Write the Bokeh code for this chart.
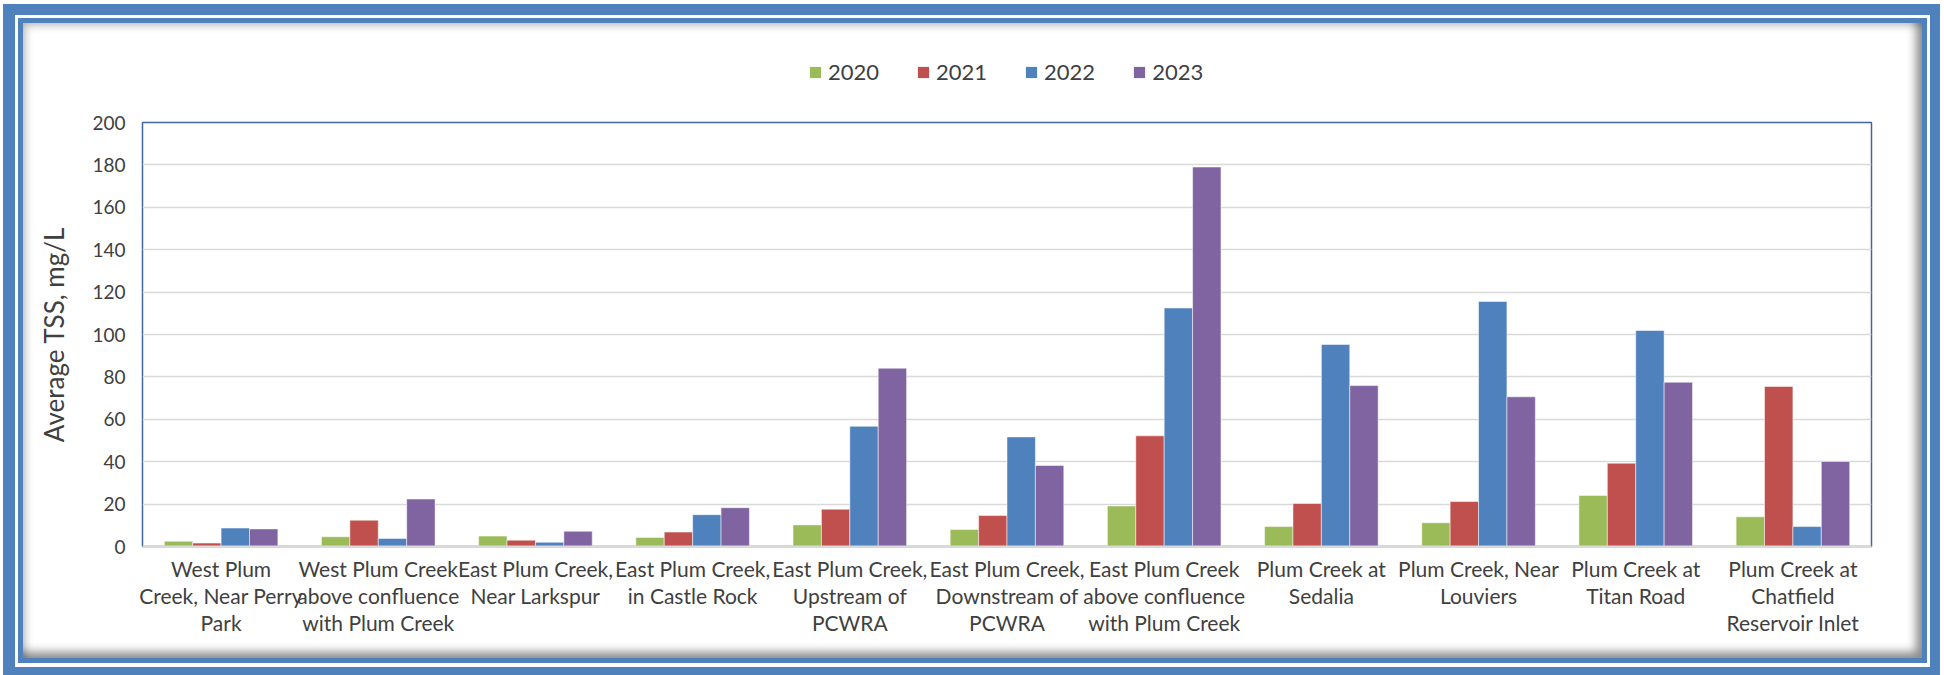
from bokeh.plotting import figure
from bokeh.layouts import column
from bokeh.models import (FactorRange, Range1d, Legend, LegendItem, FixedTicker,
                          ColumnDataSource, InlineStyleSheet)
from bokeh.transform import dodge
from bokeh.embed import file_html
from bokeh.resources import INLINE

categories = [
    "West Plum\nCreek, Near Perry\nPark",
    "West Plum Creek\nabove confluence\nwith Plum Creek",
    "East Plum Creek,\nNear Larkspur",
    "East Plum Creek,\nin Castle Rock",
    "East Plum Creek,\nUpstream of\nPCWRA",
    "East Plum Creek,\nDownstream of\nPCWRA",
    "East Plum Creek\nabove confluence\nwith Plum Creek",
    "Plum Creek at\nSedalia",
    "Plum Creek, Near\nLouviers",
    "Plum Creek at\nTitan Road",
    "Plum Creek at\nChatfield\nReservoir Inlet",
]
years = ["2020", "2021", "2022", "2023"]
tss_2020 = [2.5, 4.6, 4.9, 4.3, 10.2, 8.0, 19.1, 9.4, 11.2, 24.1, 14.0]
tss_2021 = [1.6, 12.4, 3.0, 6.8, 17.6, 14.6, 52.2, 20.3, 21.2, 39.3, 75.5]
tss_2022 = [8.7, 3.8, 2.0, 15.0, 56.7, 51.7, 112.5, 95.3, 115.6, 101.9, 9.4]
tss_2023 = [8.3, 22.4, 7.2, 18.3, 84.1, 38.2, 179.0, 75.9, 70.6, 77.5, 40.1]
y_ticks = [0, 20, 40, 60, 80, 100, 120, 140, 160, 180, 200]
y_label = "Average TSS, mg/L"
colors = ["#9BBB59", "#C0504D", "#4F81BD", "#8064A2"]

FONT = "Lato"
TXT = "#404040"

source = ColumnDataSource(dict(cat=categories, y2020=tss_2020, y2021=tss_2021,
                               y2022=tss_2022, y2023=tss_2023))

# ---------- main chart ----------
p = figure(width=1944, height=570,
           x_range=FactorRange(*categories, range_padding=0),
           y_range=Range1d(0, 200), output_backend="svg", toolbar_location=None,
           min_border_left=142, min_border_right=73, min_border_top=17, min_border_bottom=129)
p.background_fill_color = "white"
p.border_fill_color = "white"
p.outline_line_color = "#41669C"
p.outline_line_width = 1.5

bw = 0.1807
offsets = [-1.5 * bw, -0.5 * bw, 0.5 * bw, 1.5 * bw]
fields = ["y2020", "y2021", "y2022", "y2023"]
for f, off, c in zip(fields, offsets, colors):
    p.vbar(x=dodge("cat", off, range=p.x_range), top=f, width=bw, source=source,
           fill_color=c, line_color="white", line_alpha=0.5, line_width=1)

p.yaxis.ticker = FixedTicker(ticks=y_ticks)
p.yaxis.axis_line_color = None
p.yaxis.major_tick_line_color = None
p.yaxis.major_tick_out = 0
p.yaxis.major_tick_in = 0
p.yaxis.minor_tick_line_color = None
p.yaxis.major_label_standoff = 17
p.yaxis.major_label_text_font = FONT
p.yaxis.major_label_text_font_size = "19px"
p.yaxis.major_label_text_color = TXT
p.yaxis.axis_label = y_label
p.yaxis.axis_label_text_font = FONT
p.yaxis.axis_label_text_font_size = "26px"
p.yaxis.axis_label_text_font_style = "normal"
p.yaxis.axis_label_text_color = TXT
p.yaxis.axis_label_standoff = 19

p.xaxis.axis_line_color = "#D9D9D9"
p.xaxis.axis_line_width = 2
p.xaxis.major_tick_line_color = None
p.xaxis.major_tick_out = 0
p.xaxis.major_tick_in = 0
p.xaxis.minor_tick_line_color = None
p.xaxis.major_label_standoff = 9
p.xaxis.major_label_text_font = FONT
p.xaxis.major_label_text_font_size = "21px"
p.xaxis.major_label_text_line_height = 1.08
p.xaxis.major_label_text_color = TXT
p.xaxis.major_label_orientation = "horizontal"

p.xgrid.grid_line_color = None
p.ygrid.grid_line_color = "#D9D9D9"
p.ygrid.grid_line_width = 1.5

# ---------- legend strip (frame is aligned with the main chart's frame) ----------
leg = figure(width=1944, height=105, x_range=Range1d(0, 1), y_range=Range1d(0, 1),
             output_backend="svg", toolbar_location=None, min_border=0)
leg.axis.visible = False
leg.grid.visible = False
leg.outline_line_color = None
leg.background_fill_color = "white"
leg.border_fill_color = "white"
# swatch renderers: zero-area bars, only used for the legend swatches
swatches = [leg.vbar(x=[0.5], top=[0], bottom=[0], width=0, fill_color=c, line_color=None)
            for c in colors]
legend = Legend(items=[LegendItem(label=y, renderers=[r]) for y, r in zip(years, swatches)],
                orientation="horizontal", location=(666, 20), glyph_width=14, glyph_height=14,
                label_standoff=6, spacing=37, padding=0, margin=0, border_line_color=None,
                background_fill_alpha=0, label_text_font=FONT, label_text_font_size="22px",
                label_text_color=TXT)
leg.add_layout(legend)

layout = column(leg, p, spacing=0)

# decorative double blue frame with inset shadow (pure CSS overlay, no layout impact)
frame_css = """
:host { position: relative; }
:host::before {
  content: ""; position: absolute; z-index: 50; pointer-events: none;
  left: 3px; top: 4px; width: 1937px; height: 671px; box-sizing: border-box;
  border-style: solid; border-color: #4F81BD; border-width: 11px 10px 8px 12px;
}
:host::after {
  content: ""; position: absolute; z-index: 51; pointer-events: none;
  left: 18px; top: 18px; width: 1909px; height: 645px; box-sizing: border-box;
  border: 5px solid #4F81BD;
  box-shadow: inset -10px -10px 10px -4px rgba(0,0,0,0.45),
              inset 7px 7px 8px -5px rgba(0,0,0,0.30);
}
"""
layout.stylesheets = [InlineStyleSheet(css=frame_css)]

open("out.html", "w").write(file_html(layout, INLINE))
